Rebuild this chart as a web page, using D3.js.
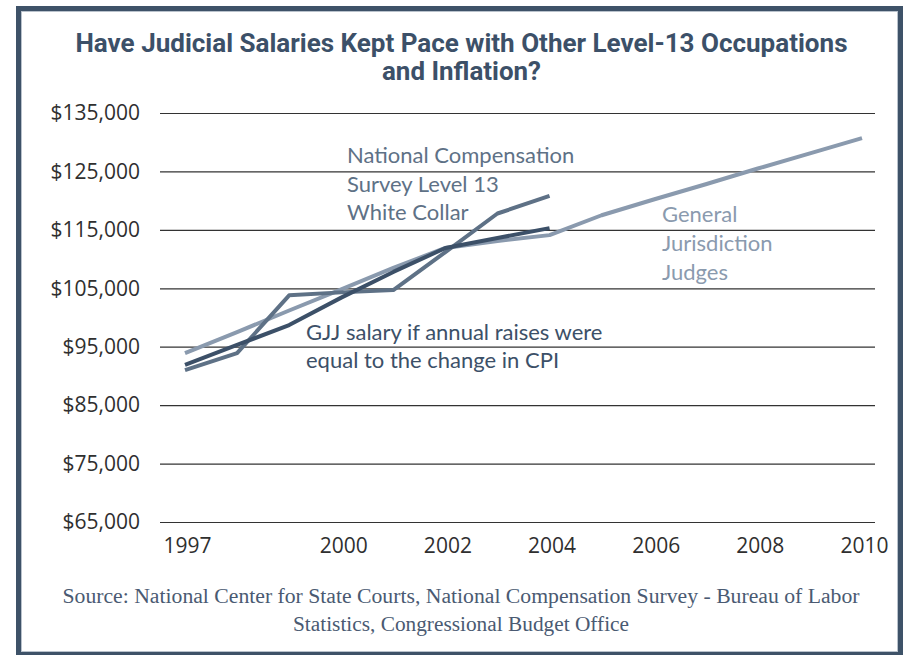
<!DOCTYPE html>
<html>
<head>
<meta charset="utf-8">
<script src="https://cdnjs.cloudflare.com/ajax/libs/d3/7.8.5/d3.min.js"></script>
<style>
	body { margin: 0; background: #ffffff; }
	svg { display: block; }
</style>
</head>
<body>
<div id="chart"></div>
<script>
"use strict"

//
// data
//
var years = [1997, 1998, 1999, 2000, 2001, 2002, 2003, 2004, 2005, 2006, 2007, 2008, 2009, 2010];
var gjjSalary = [93900, 97500, 101200, 104800, 108500, 111900, 113100, 114100, 117500, 120200, 122800, 125500, 128100, 130700];
var ncsSalary = [91000, 93900, 103800, 104300, 104700, 111200, 117800, 120800];
var cpiSalary = [91900, 95300, 98700, 103400, 107800, 111900, 113600, 115300];
var yTicks = [65000, 75000, 85000, 95000, 105000, 115000, 125000, 135000];
var xTicks = [1997, 2000, 2002, 2004, 2006, 2008, 2010];

var titleLines = ["Have Judicial Salaries Kept Pace with Other Level-13 Occupations", "and Inflation?"];
var sourceLines = ["Source: National Center for State Courts, National Compensation Survey - Bureau of Labor", "Statistics, Congressional Budget Office"];
var ncsLabel = ["National Compensation", "Survey Level 13", "White Collar"];
var cpiLabel = ["GJJ salary if annual raises were", "equal to the change in CPI"];
var gjjLabel = ["General", "Jurisdiction", "Judges"];

//
// colours
//
var COLOR_FRAME = "#3e5268";
var COLOR_LIGHT = "#8a9aae";
var COLOR_MID   = "#5e7186";
var COLOR_DARK  = "#3c5068";
var COLOR_GRID  = "#333333";
var COLOR_TEXT  = "#2f2f2f";

var W = 909, H = 655;

var svg = d3.select("#chart").append("svg")
	.attr("width", W)
	.attr("height", H)
	;

// frame
svg.append("rect")
	.attr("x", 18.5).attr("y", 8.5)
	.attr("width", 882).attr("height", 646)
	.attr("fill", "none")
	.attr("stroke", COLOR_FRAME)
	.attr("stroke-width", 5)
	;
svg.append("rect")
	.attr("x", 21.5).attr("y", 11.5)
	.attr("width", 876).attr("height", 640)
	.attr("fill", "none")
	.attr("stroke", "#b9c2cc")
	.attr("stroke-width", 1)
	;

// scales
var x = d3.scaleLinear().domain([1997, 2010]).range([185, 862]);
var y = d3.scaleLinear().domain([65000, 135000]).range([522, 113]);

// title
var titleWidths = [772, 159];
svg.append("g").selectAll("text")
	.data(titleLines)
	.join("text")
	.attr("x", W / 2 + 7)
	.attr("y", function(d, i) { return 52 + i * 28; })
	.attr("text-anchor", "middle")
	.attr("font-family", "Roboto, 'DejaVu Sans', sans-serif")
	.attr("font-weight", "bold")
	.attr("font-size", 25.5)
	.attr("fill", COLOR_DARK)
	.attr("textLength", function(d, i) { return titleWidths[i]; })
	.attr("lengthAdjust", "spacingAndGlyphs")
	.text(function(d) { return d; })
	;

// y axis: gridlines + labels
var yAxis = d3.axisLeft(y)
	.tickValues(yTicks)
	.tickSize(-(875 - 160))
	.tickPadding(20)
	.tickFormat(function(d) { return "$" + d3.format(",")(d); })
	;
var gy = svg.append("g")
	.attr("transform", "translate(160,0)")
	.call(yAxis)
	;
gy.select(".domain").remove();
gy.selectAll(".tick line")
	.attr("stroke", COLOR_GRID)
	.attr("stroke-width", 1.2)
	;
gy.selectAll(".tick text")
	.attr("font-family", "'Open Sans', Lato, sans-serif")
	.attr("font-size", 21)
	.attr("fill", COLOR_TEXT)
	;

// x axis labels
var xAxis = d3.axisBottom(x)
	.tickValues(xTicks)
	.tickSize(0)
	.tickPadding(0)
	.tickFormat(d3.format("d"))
	;
var gx = svg.append("g")
	.attr("transform", "translate(2,538)")
	.call(xAxis)
	;
gx.select(".domain").remove();
gx.selectAll(".tick text")
	.attr("font-family", "'Open Sans', Lato, sans-serif")
	.attr("font-size", 21)
	.attr("fill", COLOR_TEXT)
	;

// lines
var line = d3.line()
	.x(function(d) { return x(d[0]); })
	.y(function(d) { return y(d[1]); })
	;
function addSeries(values, color) {
	var pts = values.map(function(v, i) { return [years[i], v]; });
	svg.append("path")
		.datum(pts)
		.attr("d", line)
		.attr("fill", "none")
		.attr("stroke", color)
		.attr("stroke-width", 4)
		.attr("stroke-linejoin", "round")
		;
}
addSeries(gjjSalary, COLOR_LIGHT);
addSeries(ncsSalary, COLOR_MID);
addSeries(cpiSalary, COLOR_DARK);

// series labels
function addLabel(lines, left, top, step, color) {
	svg.append("g").selectAll("text")
		.data(lines)
		.join("text")
		.attr("x", left)
		.attr("y", function(d, i) { return top + i * step; })
		.attr("font-family", "Lato, 'Open Sans', sans-serif")
		.attr("font-size", 22)
		.attr("fill", color)
		.text(function(d) { return d; })
		;
}
addLabel(ncsLabel, 347, 163, 28.7, COLOR_MID);
addLabel(cpiLabel, 306, 340, 27.5, COLOR_DARK);
addLabel(gjjLabel, 662, 222, 29, COLOR_LIGHT);

// source
var sourceWidths = [797, 336];
svg.append("g").selectAll("text")
	.data(sourceLines)
	.join("text")
	.attr("x", 461)
	.attr("y", function(d, i) { return 603 + i * 28; })
	.attr("text-anchor", "middle")
	.attr("font-family", "'Liberation Serif', 'DejaVu Serif', serif")
	.attr("font-size", 20.5)
	.attr("fill", "#4a5a72")
	.attr("textLength", function(d, i) { return sourceWidths[i]; })
	.attr("lengthAdjust", "spacingAndGlyphs")
	.text(function(d) { return d; })
	;
</script>
</body>
</html>
